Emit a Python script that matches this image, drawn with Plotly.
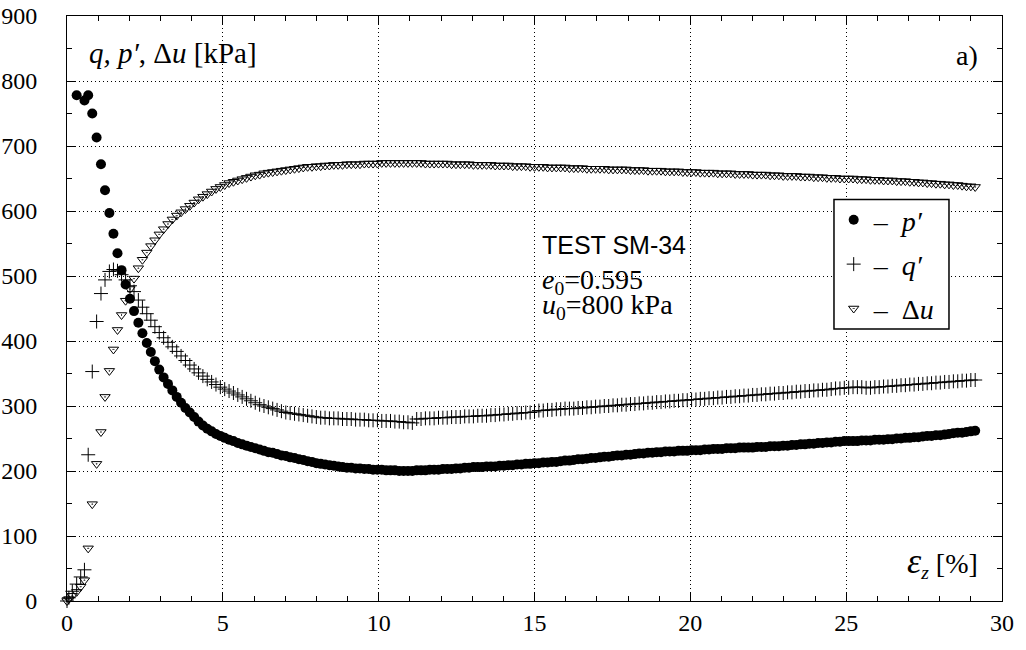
import plotly.graph_objects as go

# strain eps_z [%]
strain = [0.0, 0.06, 0.17, 0.31, 0.44, 0.56, 0.68, 0.81, 0.95, 1.09, 1.22, 1.36, 1.49, 1.62, 1.75, 1.88, 2.02, 2.15, 2.29, 2.42, 2.56, 2.69, 2.82,
          2.96, 3.10, 3.24, 3.38, 3.52, 3.66, 3.80,
          3.94, 4.08, 4.22, 4.36, 4.50, 4.64, 4.78,
          4.92, 5.06, 5.20, 5.34, 5.48, 5.62, 5.76,
          5.90, 6.04, 6.18, 6.32, 6.46, 6.60, 6.74,
          6.88, 7.02, 7.16, 7.30, 7.44, 7.58, 7.72,
          7.86, 8.00, 8.14, 8.28, 8.42, 8.56, 8.70,
          8.84, 8.98, 9.12, 9.26, 9.40, 9.54, 9.68,
          9.82, 9.96, 10.10, 10.24, 10.38, 10.52, 10.66,
          10.80, 10.94, 11.08, 11.22, 11.36, 11.50, 11.64,
          11.78, 11.92, 12.06, 12.20, 12.34, 12.48, 12.62,
          12.76, 12.90, 13.04, 13.18, 13.32, 13.46, 13.60,
          13.74, 13.88, 14.02, 14.16, 14.30, 14.44, 14.58,
          14.72, 14.86, 15.00, 15.14, 15.28, 15.42, 15.56,
          15.70, 15.84, 15.98, 16.12, 16.26, 16.40, 16.54,
          16.68, 16.82, 16.96, 17.10, 17.24, 17.38, 17.52,
          17.66, 17.80, 17.94, 18.08, 18.22, 18.36, 18.50,
          18.64, 18.78, 18.92, 19.06, 19.20, 19.34, 19.48,
          19.62, 19.76, 19.90, 20.04, 20.18, 20.32, 20.46,
          20.60, 20.74, 20.88, 21.02, 21.16, 21.30, 21.44,
          21.58, 21.72, 21.86, 22.00, 22.14, 22.28, 22.42,
          22.56, 22.70, 22.84, 22.98, 23.12, 23.26, 23.40,
          23.54, 23.68, 23.82, 23.96, 24.10, 24.24, 24.38,
          24.52, 24.66, 24.80, 24.94, 25.08, 25.22, 25.36,
          25.50, 25.64, 25.78, 25.92, 26.06, 26.20, 26.34,
          26.48, 26.62, 26.76, 26.90, 27.04, 27.18, 27.32,
          27.46, 27.60, 27.74, 27.88, 28.02, 28.16, 28.30,
          28.44, 28.58, 28.72, 28.86, 29.00, 29.14]

# p' [kPa]
p_eff = [None, None, None, 778, None, 770, 778, 750, 713, 672, 632, 597, 565, 535, 509, 487, 465, 446, 428, 412, 397, 383, 369,
         356, 344, 334, 324, 314, 305, 297,
         290, 283, 276, 270, 265, 261, 257,
         254, 251, 248, 246, 243, 241, 239,
         237, 235, 233, 231, 229, 228, 226,
         224, 223, 221, 220, 218, 217, 215,
         214, 212, 211, 210, 209, 208, 207,
         206, 205, 205, 204, 204, 203, 203,
         202, 202, 202, 201, 201, 201, 200,
         200, 200, 200, 201, 201, 201, 202,
         202, 202, 203, 203, 203, 204, 204,
         205, 205, 206, 206, 206, 207, 207,
         207, 208, 208, 209, 209, 210, 210,
         211, 211, 212, 212, 213, 213, 214,
         214, 215, 216, 216, 217, 218, 218,
         219, 220, 220, 221, 222, 222, 223,
         224, 224, 225, 225, 226, 227, 227,
         228, 228, 229, 229, 230, 230, 230,
         231, 231, 231, 232, 232, 232, 233,
         233, 234, 234, 234, 235, 235, 235,
         236, 236, 236, 236, 237, 237, 237,
         238, 238, 238, 239, 239, 240, 240,
         241, 241, 242, 242, 243, 243, 244,
         244, 245, 245, 246, 246, 246, 246,
         247, 247, 247, 248, 248, 248, 249,
         249, 250, 250, 251, 251, 252, 252,
         253, 254, 254, 255, 255, 256, 257,
         258, 259, 259, 260, 261, 262]

# q' [kPa]
q_dev = [0, 5, 15, 26, 37, 48, 225, 353, 430, 473, 494, 507, 510, 508, 502, 494, 485, 476, 463, 452, 442, 432, 422,
         413, 405, 398, 391, 384, 377, 370,
         363, 357, 351, 346, 341, 337, 333,
         329, 326, 323, 320, 317, 314, 311,
         308, 305, 302, 300, 298, 296, 294,
         292, 290, 289, 288, 287, 286, 285,
         284, 283, 282, 282, 281, 281, 281,
         280, 280, 280, 279, 279, 279, 278,
         278, 278, 277, 277, 277, 276, 276,
         275, 275, 274, 280, 280, 281, 281,
         281, 282, 282, 282, 283, 283, 283,
         284, 284, 284, 285, 285, 285, 286,
         286, 287, 287, 288, 288, 289, 289,
         290, 290, 291, 293, 293, 294, 294,
         295, 295, 296, 296, 296, 297, 297,
         298, 298, 299, 299, 300, 300, 301,
         301, 302, 302, 303, 303, 304, 304,
         305, 305, 306, 306, 307, 307, 308,
         308, 309, 309, 310, 310, 311, 311,
         312, 312, 313, 313, 314, 314, 315,
         315, 316, 316, 317, 317, 318, 318,
         319, 319, 320, 320, 321, 321, 322,
         322, 323, 323, 324, 324, 325, 325,
         326, 327, 327, 328, 328, 329, 329,
         329, 328, 328, 329, 329, 330, 330,
         331, 331, 332, 332, 333, 333, 334,
         334, 335, 335, 336, 336, 337, 337,
         338, 338, 339, 339, 340, 340]

# delta u [kPa]
du = [0, 3, 8, 14, 22, 32, 81, 149, 211, 260, 314, 354, 387, 417, 440, 462, 480, 496, 512, 525, 536, 546, 555,
      564, 572, 580, 587, 593, 598, 603,
      608, 613, 618, 622, 626, 630, 634,
      637, 640, 643, 645, 647, 649, 651,
      653, 655, 656, 658, 659, 660, 661,
      662, 663, 664, 665, 666, 667, 668,
      668, 669, 669, 670, 670, 671, 671,
      671, 672, 672, 672, 672, 673, 673,
      673, 673, 674, 674, 674, 674, 674,
      674, 674, 674, 674, 674, 673, 673,
      673, 673, 673, 673, 672, 672, 672,
      672, 672, 671, 671, 671, 671, 671,
      670, 670, 670, 670, 669, 669, 669,
      669, 668, 668, 668, 668, 667, 667,
      667, 667, 667, 666, 666, 666, 666,
      665, 665, 665, 665, 665, 664, 664,
      664, 664, 664, 663, 663, 663, 663,
      662, 662, 662, 662, 661, 661, 661,
      661, 660, 660, 660, 660, 659, 659,
      659, 659, 658, 658, 658, 658, 657,
      657, 657, 657, 656, 656, 656, 656,
      655, 655, 655, 654, 654, 654, 654,
      653, 653, 653, 652, 652, 652, 651,
      651, 651, 650, 650, 650, 650, 649,
      649, 649, 648, 648, 648, 647, 647,
      647, 646, 646, 646, 645, 645, 644,
      644, 643, 643, 642, 642, 641, 641,
      640, 640, 639, 638, 638, 637]

x_ticks = [0, 5, 10, 15, 20, 25, 30]
y_ticks = [0, 100, 200, 300, 400, 500, 600, 700, 800, 900]

SERIF = "Liberation Serif"
SANS = "Liberation Sans"

fig = go.Figure()
fig.add_trace(go.Scatter(
    x=strain, y=p_eff, mode="markers", name="\u2013\u2002<i>p\u2032</i>", legendgroup="a",
    marker=dict(symbol="circle", size=10, color="black", line=dict(width=0)),
    cliponaxis=False))
fig.add_trace(go.Scatter(
    x=strain, y=q_dev, mode="markers", name="\u2013\u2002<i>q\u2032</i>", legendgroup="b",
    marker=dict(symbol="cross-thin", size=10, color="black", line=dict(width=1, color="black")),
    cliponaxis=False))
fig.add_trace(go.Scatter(
    x=strain, y=du, mode="markers", name="\u2013\u2002\u0394<i>u</i>", legendgroup="c",
    marker=dict(symbol="triangle-down-open-dot", size=9, color="black", line=dict(width=1, color="black")),
    cliponaxis=False))

axis_common = dict(
    showline=True, linecolor="black", linewidth=1, mirror="allticks",
    ticks="inside", ticklen=9, tickwidth=1, tickcolor="black",
    showgrid=True, gridcolor="black", gridwidth=1, griddash="1px,3px",
    zeroline=False, automargin=False,
    tickfont=dict(family=SERIF, size=24, color="black"),
)

fig.update_xaxes(range=[0, 30], tickmode="array", tickvals=x_ticks,
                 ticktext=[str(v) for v in x_ticks],
                 minor=dict(dtick=1, ticks="inside", ticklen=5, tickcolor="black", showgrid=False),
                 ticklabelstandoff=0, **axis_common)
fig.update_yaxes(range=[0, 900], tickmode="array", tickvals=y_ticks,
                 ticktext=[str(v) for v in y_ticks],
                 minor=dict(dtick=50, ticks="inside", ticklen=5, tickcolor="black", showgrid=False),
                 ticklabelstandoff=24, **axis_common)

ann = [
    dict(x=0.021, y=0.936, xref="paper", yref="paper", xanchor="left", yanchor="middle",
         text="<i>q, p\u2032</i>, \u0394<i>u</i> [kPa]", font=dict(family=SERIF, size=29)),
    dict(x=0.977, y=0.933, xref="paper", yref="paper", xanchor="right", yanchor="middle",
         text="a)", font=dict(family=SERIF, size=28)),
    dict(x=0.977, y=0.066, xref="paper", yref="paper", xanchor="right", yanchor="middle",
         text="<span style='font-size:36px'><i>\u03b5</i></span><sub><i>z</i></sub> [%]",
         font=dict(family=SERIF, size=28)),
    dict(x=0.506, y=0.609, xref="paper", yref="paper", xanchor="left", yanchor="middle",
         text="TEST SM-34", font=dict(family=SANS, size=25)),
    dict(x=0.506, y=0.547, xref="paper", yref="paper", xanchor="left", yanchor="middle",
         text="<i>e</i><sub>0</sub>=0.595", font=dict(family=SERIF, size=28)),
    dict(x=0.506, y=0.504, xref="paper", yref="paper", xanchor="left", yanchor="middle",
         text="<i>u</i><sub>0</sub>=800 kPa", font=dict(family=SERIF, size=28)),
]
for a in ann:
    a["showarrow"] = False
    a["font"]["color"] = "black"

# legend frame (box drawn as a shape; legend entries drawn by plotly on top)
legend_box = dict(type="rect", xref="paper", yref="paper",
                  x0=0.8203, x1=0.9433, y0=0.465, y1=0.6863,
                  line=dict(color="black", width=1.5), fillcolor="white", layer="above")

fig.update_layout(
    width=1026, height=650, autosize=False,
    margin=dict(l=67, r=24, t=16, b=49),
    paper_bgcolor="white", plot_bgcolor="white",
    font=dict(family=SERIF, color="black"),
    annotations=ann,
    shapes=[legend_box],
    showlegend=True,
    legend=dict(x=0.820, y=0.694, xref="paper", yref="paper", xanchor="left", yanchor="top",
                bgcolor="rgba(0,0,0,0)", borderwidth=0,
                font=dict(family=SERIF, size=28, color="black"),
                tracegroupgap=5, itemwidth=30),
)

fig.write_html("out.html")
